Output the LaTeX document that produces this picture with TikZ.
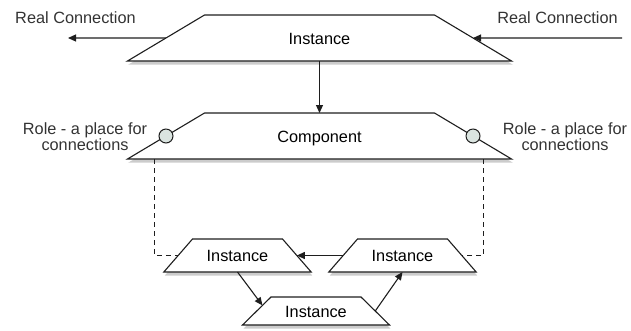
\documentclass[tikz,border=0pt]{standalone}
\usepackage{fontspec}
\setmainfont{Liberation Sans}
\usetikzlibrary{positioning, arrows.meta, shapes.geometric, shadows, calc}
\definecolor{LineColor}{RGB}{30,30,30}
\definecolor{RoleColor}{RGB}{218,228,224}

\begin{document}
\begin{tikzpicture}[x=1pt, y=-1pt, font=\fontsize{16.3}{15}\selectfont,
  trap/.style={draw=LineColor, line width=1.1pt, fill=white, trapezium, outer sep=0pt, inner xsep=0pt, align=center, text height=12pt, text depth=0pt, drop shadow={shadow xshift=1pt, shadow yshift=-3.5pt, opacity=0.4}},
  bigtrap/.style={trap, trapezium angle=30.85, text width=230pt, inner ysep=17pt},
  smalltrap/.style={trap, trapezium angle=49, text width=90pt, inner ysep=10.5pt},
  arr/.style={-{Triangle[length=8pt, width=7pt]}, line width=1.1pt, draw=LineColor},
  role/.style={circle, draw=LineColor, line width=1pt, fill=RoleColor, minimum size=14pt, inner sep=0pt},
  note/.style={align=center, text=black!80}]
  \useasboundingbox (0,0) rectangle (631,330);

  % main instance and its component
  \node[bigtrap] (inst) at (319.5,38) {Instance};
  \node[bigtrap, below=52pt of inst] (comp) {Component};
  \node[role] (rolel) at (comp.west) {};
  \node[role] (roler) at (comp.east) {};

  % inner instances
  \node[smalltrap] (inl) at (237.5,255.5) {Instance};
  \node[smalltrap] (inr) at (402.5,255.5) {Instance};
  \node[trap, trapezium angle=44.5, text width=90pt, inner ysep=8pt] (inb) at (316,311) {Instance};

  % labels
  \node[note] (rcl) at (75.5,17.5) {Real Connection};
  \node[note] (rcr) at (557.5,17.5) {Real Connection};
  \node[note] (notel) at (85,136.5) {Role - a place for\\connections};
  \node[note] (noter) at (565,136.5) {Role - a place for\\connections};

  \coordinate (outl) at (68,38);
  \coordinate (inrc) at (622,38);
  \draw[arr] (inst.west) -- (outl);
  \draw[arr] (inrc) -- (inst.east);
  \draw[arr] (inst.south) -- (comp.north);
  \draw[arr] (inr.west) -- (inl.east);
  \draw[arr] (inl.south) -- ($(inb.top left corner)!0.3!(inb.bottom left corner)$);
  \draw[arr] (inb.east) -- (inr.south);
  \draw[draw=LineColor, line width=0.9pt, dash pattern=on 5pt off 4pt] ([xshift=27pt]comp.bottom left corner) |- (inl.west);
  \draw[draw=LineColor, line width=0.9pt, dash pattern=on 5pt off 4pt] ([xshift=-28pt]comp.bottom right corner) |- (inr.east);
\end{tikzpicture}
\end{document}
